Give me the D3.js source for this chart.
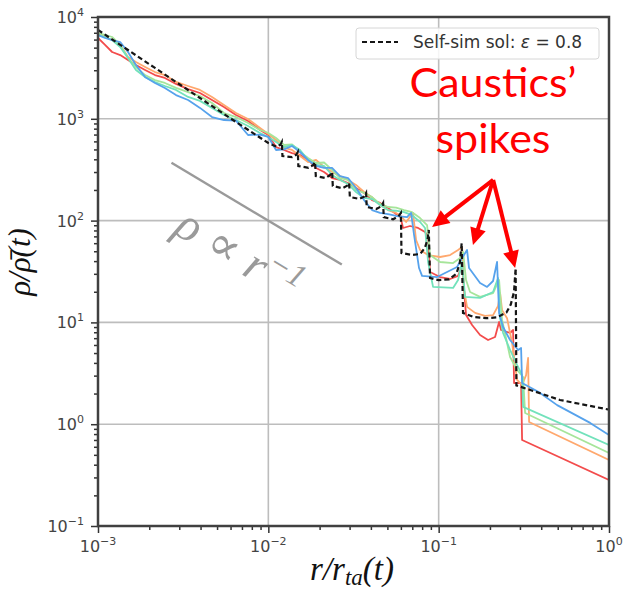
<!DOCTYPE html>
<html>
<head>
<meta charset="utf-8">
<script src="https://cdn.jsdelivr.net/npm/d3@7"></script>
<style>
body { margin: 0; background: #fff; }
svg { display: block; }
</style>
</head>
<body>
<div id="chart"></div>
<script>
// radii (r / r_ta) shared by the simulation curves, inner part
const rGrid = [0.001, 0.0011, 0.00121, 0.00135, 0.0015, 0.00167, 0.00189, 0.00216, 0.00247, 0.00287,
    0.00338, 0.00397, 0.00467, 0.00549, 0.00646, 0.0076, 0.00894, 0.01, 0.0111, 0.01236,
    0.01378, 0.01535, 0.01711, 0.01906, 0.02124, 0.02366, 0.02636, 0.02938, 0.03273, 0.03648,
    0.04064, 0.04529, 0.05046, 0.05623];

// density on rGrid for each simulation snapshot
const redRho = [6220, 5310, 4530, 4230, 3780, 3380, 3020, 2690, 2520, 2200, 1960, 1792, 1530, 1306, 1090, 951, 776, 693,
    528, 494, 461, 441, 394, 329, 300, 262, 251, 234, 209, 187, 159, 149, 133, 116];
const orangeRho = [6960, 6360, 5940, 5310, 4050, 3610, 3230, 2880, 2690, 2300, 2100, 1920, 1640, 1366, 1140, 995, 812, 709,
    619, 517, 494, 431, 376, 394, 336, 300, 274, 251, 224, 191, 170, 142, 127, 119];
const greenRho = [6960, 6660, 6360, 5310, 3960, 3230, 2690, 2400, 2250, 2010, 1830, 1670, 1430, 1140, 1040, 909, 776, 725,
    648, 553, 560, 472, 412, 368, 372, 314, 262, 251, 200, 187, 170, 146, 136, 134];
const tealRho = [6660, 6360, 5940, 5070, 3960, 3020, 2570, 2300, 2100, 1920, 1640, 1500, 1280, 1090, 973, 850, 725, 663,
    592, 528, 553, 494, 394, 352, 344, 281, 251, 229, 191, 167, 163, 142, 127, 125];
const blueRho = [6660, 6220, 5940, 5680, 4530, 3380, 2570, 2250, 2010, 1710, 1530, 1280, 1040, 973, 960, 693, 700, 663,
    494, 500, 541, 472, 394, 344, 329, 329, 274, 262, 209, 159, 127, 119, 116, 111];

// outer part [r, rho], where the caustics sit
const redTail = [[0.0593, 113], [0.0618, 84.6], [0.0679, 88.5], [0.0757, 84.6], [0.0832, 77.3], [0.0867, 69],
    [0.089, 31.3], [0.1019, 27.9], [0.1167, 26.7], [0.13, 28.6], [0.1372, 35.8], [0.141, 20.8], [0.1448, 11.8],
    [0.1571, 9.43], [0.175, 7.52], [0.195, 6.72], [0.2144, 7.19], [0.2263, 10.1], [0.2325, 8.42], [0.2626, 7.87],
    [0.2735, 8.42], [0.2772, 2.54], [0.3047, 2.54], [0.3089, 0.70], [1.0, 0.283]];
const orangeTail = [[0.0593, 113], [0.0644, 96.9], [0.0707, 119], [0.0737, 64.5], [0.0778, 51.4], [0.0867, 45.9],
    [0.1019, 43.9], [0.1167, 45.9], [0.13, 51.4], [0.1372, 55.1], [0.141, 20.8], [0.1468, 14.2], [0.1636, 12.4],
    [0.1873, 11.6], [0.2086, 11.8], [0.2232, 14.5], [0.2294, 19.4], [0.2357, 13.2], [0.2521, 11.0], [0.2698, 6.28],
    [0.2886, 2.72], [0.3089, 2.43], [0.3261, 3.04], [0.335, 4.47], [0.3395, 1.05], [1.0, 0.445]];
const greenTail = [[0.0627, 127], [0.0698, 121], [0.0778, 106], [0.0855, 90.5], [0.089, 45.9], [0.1019, 39.2],
    [0.1215, 38.3], [0.1336, 42.9], [0.1391, 49.2], [0.1448, 26.1], [0.1529, 19.9], [0.175, 17.8], [0.2086, 19.4],
    [0.2263, 26.1], [0.2357, 10.6], [0.2626, 4.57], [0.2886, 3.41], [0.3131, 2.91], [0.3217, 1.29], [1.0, 0.521]];
const tealTail = [[0.0627, 121], [0.0698, 113], [0.0778, 96.9], [0.0832, 84.6], [0.0867, 39.2], [0.0927, 22.3],
    [0.1215, 21.8], [0.13, 26.1], [0.1372, 39.2], [0.1429, 17.8], [0.175, 17.4], [0.2086, 19.9], [0.2232, 27.3],
    [0.2294, 11.0], [0.2389, 7.87], [0.2626, 5.36], [0.2886, 3.82], [0.3089, 3.04], [0.3131, 1.48], [1.0, 0.625]];
const blueTail = [[0.0652, 108], [0.0689, 119], [0.0717, 72.2], [0.0767, 34.2], [0.0799, 28.6], [0.0979, 27.9],
    [0.112, 31.3], [0.1282, 35.0], [0.1372, 42.9], [0.1468, 51.4], [0.1508, 34.2], [0.175, 24.4], [0.1924, 22.3],
    [0.2086, 25.5], [0.2202, 39.2], [0.2263, 12.4], [0.2389, 9.01], [0.2626, 6.72], [0.2926, 5.36], [0.3047, 5.60],
    [0.3089, 2.54], [0.394, 2.03], [0.496, 1.54], [0.775, 1.03], [1.0, 0.783]];

// self-similar solution, eps = 0.8
const selfSim = [[0.001, 7450], [0.0015, 4740], [0.00216, 3160], [0.00397, 1600], [0.00646, 930], [0.01, 578],
    [0.0112, 530], [0.0118, 560], [0.012, 592], [0.0121, 431], [0.0138, 420], [0.0146, 445], [0.0149, 472],
    [0.015, 344], [0.0172, 330], [0.0183, 350], [0.0188, 376], [0.019, 274], [0.0217, 262], [0.023, 280],
    [0.0237, 300], [0.0239, 219], [0.0272, 208], [0.029, 220], [0.0298, 234], [0.0301, 171], [0.0342, 163],
    [0.0365, 172], [0.0375, 187], [0.0378, 136], [0.043, 130], [0.046, 138], [0.0472, 149], [0.0476, 108],
    [0.054, 103], [0.058, 110], [0.06, 119], [0.0605, 48], [0.07, 46], [0.078, 47], [0.083, 54], [0.086, 65],
    [0.0875, 81], [0.089, 27.3], [0.1, 26], [0.115, 26.5], [0.127, 30], [0.133, 38], [0.1365, 60], [0.139, 12.4],
    [0.16, 11.3], [0.19, 11], [0.22, 11.2], [0.25, 12.5], [0.265, 15], [0.277, 20], [0.283, 34], [0.286, 2.4],
    [0.345, 2.17], [0.515, 1.73], [1.0, 1.39]];

// reference slope rho ~ r^-1
const slopeGuide = [[0.0027, 370], [0.027, 37]];

// caustic spikes pointed at by the arrows
const arrowOrigin = [0.209, 251];
const arrowTargets = [[0.0915, 86.5], [0.159, 57.6], [0.281, 34.2]];

const xMajor = [1e-3, 1e-2, 1e-1, 1];
const yMajor = [1e-1, 1, 10, 100, 1000, 10000];
const xExp = ['\u22123', '\u22122', '\u22121', '0'];
const yExp = ['\u22121', '0', '1', '2', '3', '4'];

function minorTicks(lo, hi) {
    /**
     * Values 2..9 times every decade between lo and hi.
     */
    let out = [];
    for (let d = lo; d < hi; d *= 10) {
        for (let k = 2; k < 10; k++) out.push(d * k);
    }
    return out;
}

const svg = d3.select('#chart').append('svg')
    .attr('width', 624)
    .attr('height', 594);

const x = d3.scaleLog().domain([1e-3, 1]).range([98, 609]);
const y = d3.scaleLog().domain([1e-1, 1e4]).range([526, 17]);

svg.append('defs').append('clipPath').attr('id', 'plotclip')
    .append('rect').attr('x', 98).attr('y', 17).attr('width', 511).attr('height', 509);

// grid lines on the decades
svg.append('g').selectAll('line').data(xMajor.slice(1, -1)).join('line')
    .attr('x1', d => x(d)).attr('x2', d => x(d))
    .attr('y1', 17).attr('y2', 526)
    .attr('stroke', '#bdbdbd').attr('stroke-width', 1.6);
svg.append('g').selectAll('line').data(yMajor.slice(1, -1)).join('line')
    .attr('y1', d => y(d)).attr('y2', d => y(d))
    .attr('x1', 98).attr('x2', 609)
    .attr('stroke', '#bdbdbd').attr('stroke-width', 1.6);

// slope guide
const line = d3.line().x(d => x(d[0])).y(d => y(d[1]));
svg.append('path').datum(slopeGuide)
    .attr('d', line)
    .attr('fill', 'none').attr('stroke', '#9a9a9a').attr('stroke-width', 2.4);

// simulation snapshots
const series = [
    {rho: redRho, tail: redTail, color: '#f34c4c'},
    {rho: orangeRho, tail: orangeTail, color: '#ffa86e'},
    {rho: greenRho, tail: greenTail, color: '#a6e59a'},
    {rho: tealRho, tail: tealTail, color: '#72e2bb'},
    {rho: blueRho, tail: blueTail, color: '#56a2ec'},
];

const curves = svg.append('g').attr('clip-path', 'url(#plotclip)');
series.forEach(s => {
    const pts = rGrid.map((r, i) => [r, s.rho[i]]).concat(s.tail);
    curves.append('path').datum(pts)
        .attr('d', line)
        .attr('fill', 'none')
        .attr('stroke', s.color)
        .attr('stroke-width', 1.8)
        .attr('stroke-linejoin', 'round');
});

curves.append('path').datum(selfSim)
    .attr('d', line)
    .attr('fill', 'none')
    .attr('stroke', '#151515')
    .attr('stroke-width', 2.2)
    .attr('stroke-dasharray', '5,3');

// axes ticks
function styleAxis(g) {
    g.select('.domain').remove();
    g.selectAll('line').attr('stroke', '#333').attr('stroke-width', 1.5);
    g.selectAll('text').remove();
}
svg.append('g').attr('transform', 'translate(98,0)')
    .call(d3.axisLeft(y).tickValues(yMajor).tickSize(7)).call(styleAxis);
svg.append('g').attr('transform', 'translate(98,0)')
    .call(d3.axisLeft(y).tickValues(minorTicks(0.1, 1e4)).tickSize(4)).call(styleAxis);
svg.append('g').attr('transform', 'translate(0,526)')
    .call(d3.axisBottom(x).tickValues(xMajor).tickSize(7)).call(styleAxis);
svg.append('g').attr('transform', 'translate(0,526)')
    .call(d3.axisBottom(x).tickValues(minorTicks(1e-3, 1)).tickSize(4)).call(styleAxis);

// spines
svg.append('rect')
    .attr('x', 98).attr('y', 17).attr('width', 511).attr('height', 509)
    .attr('fill', 'none').attr('stroke', '#404040').attr('stroke-width', 2.5);

// tick labels 10^n
const tickFont = "'DejaVu Sans', sans-serif";
svg.append('g').selectAll('text').data(yMajor).join('text')
    .attr('x', 84).attr('y', d => y(d) + 6)
    .attr('text-anchor', 'end')
    .attr('font-family', tickFont).attr('font-size', 16).attr('fill', '#444')
    .each(function(d, i) {
        const t = d3.select(this);
        t.append('tspan').text('10');
        t.append('tspan').attr('dy', -7).attr('font-size', 11).text(yExp[i]);
    });
svg.append('g').selectAll('text').data(xMajor).join('text')
    .attr('x', d => x(d)).attr('y', 552)
    .attr('text-anchor', 'middle')
    .attr('font-family', tickFont).attr('font-size', 16).attr('fill', '#444')
    .each(function(d, i) {
        const t = d3.select(this);
        t.append('tspan').text('10');
        t.append('tspan').attr('dy', -7).attr('font-size', 11).text(xExp[i]);
    });

// axis titles
const mathFont = "'Liberation Serif', 'DejaVu Serif', serif";
const xTitle = svg.append('text')
    .attr('x', 352).attr('y', 580)
    .attr('text-anchor', 'middle')
    .attr('font-family', mathFont).attr('font-style', 'italic')
    .attr('font-size', 33).attr('fill', '#111');
xTitle.append('tspan').text('r/r');
xTitle.append('tspan').attr('dy', 5).attr('font-size', 23).text('ta');
xTitle.append('tspan').attr('dy', -5).text('(t)');

svg.append('text')
    .attr('transform', 'translate(30,262) rotate(-90)')
    .attr('text-anchor', 'middle')
    .attr('font-family', mathFont).attr('font-style', 'italic')
    .attr('font-size', 31).attr('fill', '#111')
    .text('\u03c1/\u03c1\u0304(t)');

// legend
const legend = svg.append('g');
legend.append('rect')
    .attr('x', 356).attr('y', 28).attr('width', 243).attr('height', 31).attr('rx', 3)
    .attr('fill', '#fff').attr('fill-opacity', 0.85)
    .attr('stroke', '#d6d6d6').attr('stroke-width', 1);
legend.append('line')
    .attr('x1', 362).attr('x2', 398).attr('y1', 42).attr('y2', 42)
    .attr('stroke', '#151515').attr('stroke-width', 2).attr('stroke-dasharray', '5,3');
const legText = legend.append('text')
    .attr('x', 413).attr('y', 48)
    .attr('font-family', tickFont).attr('font-size', 17).attr('fill', '#333');
legText.append('tspan').text('Self-sim sol: ');
legText.append('tspan').attr('font-style', 'italic').text('\u03b5');
legText.append('tspan').text(' = 0.8');

// slope label
const slopeText = svg.append('text')
    .attr('transform', 'translate(231,268) rotate(31)')
    .attr('text-anchor', 'middle')
    .attr('font-family', mathFont).attr('font-style', 'italic')
    .attr('font-size', 48).attr('fill', '#9a9a9a');
slopeText.append('tspan').text('\u03c1 \u221d r');
slopeText.append('tspan').attr('dy', -17).attr('font-size', 33).text('\u22121');

// caustics annotation
const redFont = "Lato, 'Open Sans', sans-serif";
svg.append('text')
    .attr('x', 493).attr('y', 97)
    .attr('text-anchor', 'middle')
    .attr('font-family', redFont).attr('font-size', 41).attr('fill', '#ff0000')
    .attr('textLength', 167).attr('lengthAdjust', 'spacingAndGlyphs')
    .text('Caustics\u2019');
svg.append('text')
    .attr('x', 493).attr('y', 153)
    .attr('text-anchor', 'middle')
    .attr('font-family', redFont).attr('font-size', 41).attr('fill', '#ff0000')
    .attr('textLength', 115).attr('lengthAdjust', 'spacingAndGlyphs')
    .text('spikes');

const arrows = svg.append('g');
const ox = x(arrowOrigin[0]), oy = y(arrowOrigin[1]);
arrowTargets.forEach(t => {
    const tx = x(t[0]), ty = y(t[1]);
    const dx = tx - ox, dy = ty - oy;
    const len = Math.sqrt(dx * dx + dy * dy);
    const ux = dx / len, uy = dy / len;
    const headLen = 17, headHalf = 8;
    const bx = tx - ux * headLen, by = ty - uy * headLen;
    arrows.append('line')
        .attr('x1', ox).attr('y1', oy).attr('x2', bx + ux * 2).attr('y2', by + uy * 2)
        .attr('stroke', '#ff0000').attr('stroke-width', 4);
    arrows.append('polygon')
        .attr('points', [[tx, ty], [bx - uy * headHalf, by + ux * headHalf], [bx + uy * headHalf, by - ux * headHalf]].join(' '))
        .attr('fill', '#ff0000');
});
</script>
</body>
</html>
